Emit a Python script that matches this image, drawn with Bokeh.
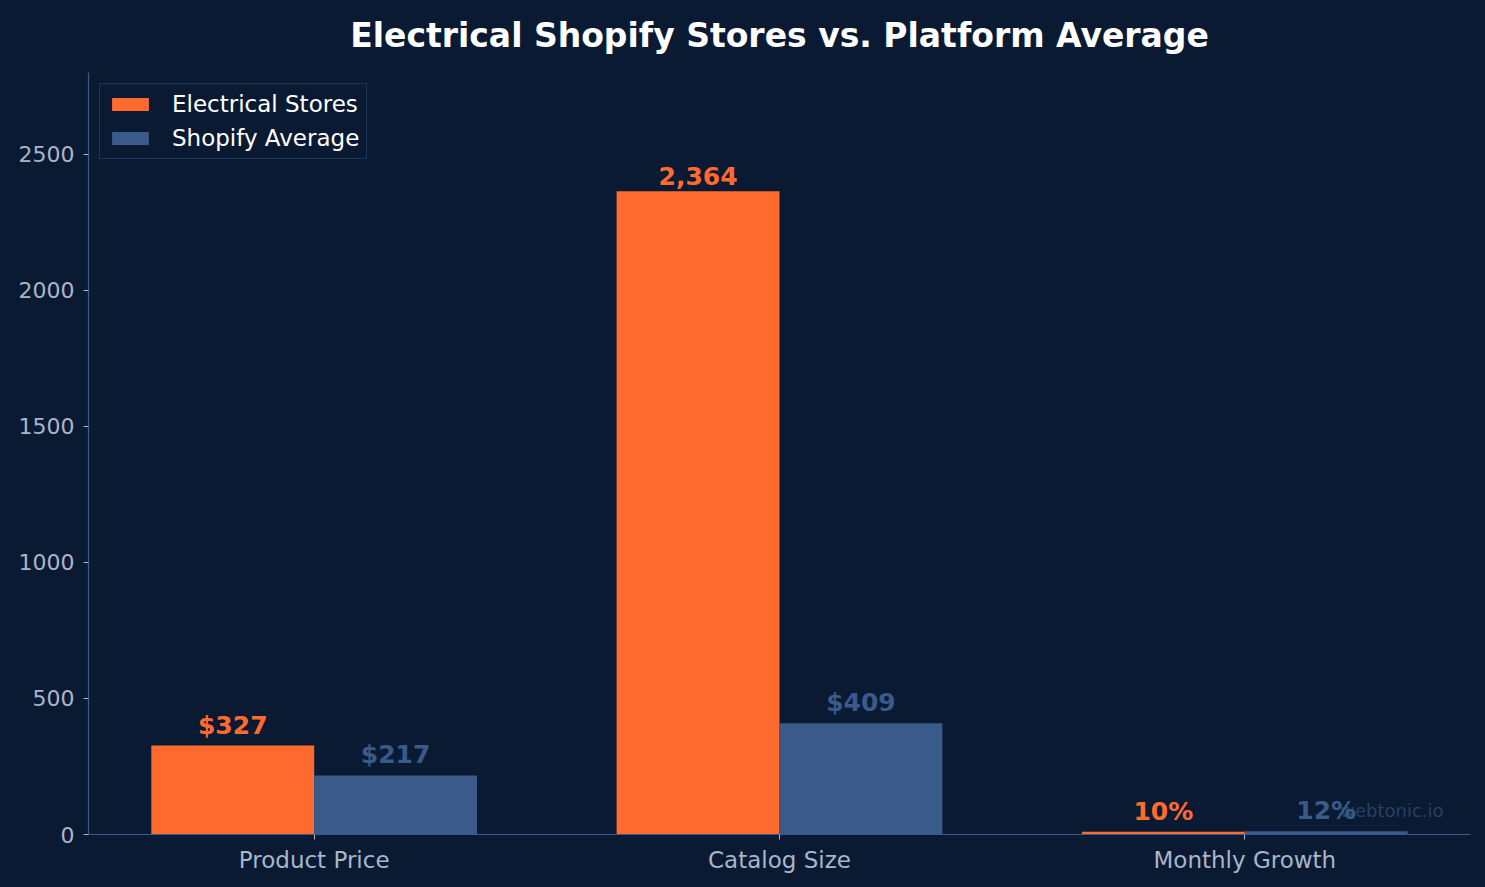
from bokeh.plotting import figure
from bokeh.models import (Range1d, FixedTicker, ColumnDataSource, Legend, LegendItem,
                          Label, LabelSet, Title)
from bokeh.core.properties import value
from bokeh.embed import file_html
from bokeh.resources import INLINE

title_text = "Electrical Shopify Stores vs. Platform Average"
categories = ["Product Price", "Catalog Size", "Monthly Growth"]
electrical = [327, 2364, 10]
average = [217, 409, 12]
electrical_labels = ["$327", "2,364", "10%"]
average_labels = ["$217", "$409", "12%"]
y_ticks = [0, 500, 1000, 1500, 2000, 2500]

BG = "#0b1a33"
ORANGE = "#ff6b2f"
BLUE = "#3a5a8a"
TICK = "#a9b5c8"
FONT = "DejaVu Sans"
W = 0.35

idx = list(range(len(categories)))
src_e = ColumnDataSource(dict(x=[i - W / 2 for i in idx], top=electrical, lab=electrical_labels))
src_a = ColumnDataSource(dict(x=[i + W / 2 for i in idx], top=average, lab=average_labels))

p = figure(width=1485, height=887, output_backend="svg", toolbar_location=None,
           x_range=Range1d(-0.485, 2.485), y_range=Range1d(0, 2800),
           background_fill_color=None, border_fill_color=BG,
           min_border_left=88, min_border_right=15, min_border_top=72, min_border_bottom=53)
p.outline_line_color = None
p.xgrid.visible = False
p.ygrid.visible = False
p.styles = {"background-color": BG}
p.title.text = ""

# invisible spacer panel between the frame and the title
spacer = Title(text=".", text_color=BG, text_font=FONT, text_font_size="13px", standoff=0)
p.add_layout(spacer, "above")
main_title = Title(text=title_text, text_color="white", text_font=FONT, text_font_size="33px",
                   text_font_style="bold", align="center", standoff=14)
p.add_layout(main_title, "above")

r_e = p.vbar(x="x", top="top", width=W, source=src_e, fill_color=ORANGE, line_color=None)
r_a = p.vbar(x="x", top="top", width=W, source=src_a, fill_color=BLUE, line_color=None)

wm = Label(x=2.427, y=88, text="webtonic.io",
           text_align="right", text_baseline="middle", text_color=BLUE, text_alpha=0.6,
           text_font=FONT, text_font_size="18px")
p.add_layout(wm)

for src, col in ((src_e, ORANGE), (src_a, BLUE)):
    ls = LabelSet(x="x", y="top", text="lab", source=src, text_align="center",
                  text_baseline="bottom", y_offset=6, text_color=col,
                  text_font=value(FONT), text_font_size="25px", text_font_style="bold")
    p.add_layout(ls)

for ax in (p.xaxis[0], p.yaxis[0]):
    ax.axis_line_color = BLUE
    ax.axis_line_width = 1.2
    ax.major_tick_line_color = TICK
    ax.major_tick_out = 5
    ax.major_tick_in = 0
    ax.minor_tick_line_color = None
    ax.major_label_text_color = TICK
    ax.major_label_text_font = FONT

p.xaxis.major_label_text_font_size = "23px"
p.yaxis.major_label_text_font_size = "22px"
p.xaxis.ticker = FixedTicker(ticks=idx)
p.xaxis.major_label_overrides = {i: c for i, c in zip(idx, categories)}
p.xaxis.major_label_standoff = 7
p.yaxis.ticker = FixedTicker(ticks=y_ticks)
p.yaxis.major_label_standoff = 9

legend = Legend(items=[LegendItem(label="Electrical Stores", renderers=[r_e]),
                       LegendItem(label="Shopify Average", renderers=[r_a])],
                location="top_left")
legend.background_fill_color = BG
legend.background_fill_alpha = 1.0
legend.border_line_color = "#2f4f80"
legend.border_line_width = 1.5
legend.label_text_color = "white"
legend.label_text_font = FONT
legend.label_text_font_size = "23px"
legend.glyph_width = 46
legend.glyph_height = 16
legend.spacing = 8
legend.padding = 7
legend.margin = 11
legend.label_standoff = 19
p.add_layout(legend)

open("out.html", "w").write(file_html(p, INLINE))
